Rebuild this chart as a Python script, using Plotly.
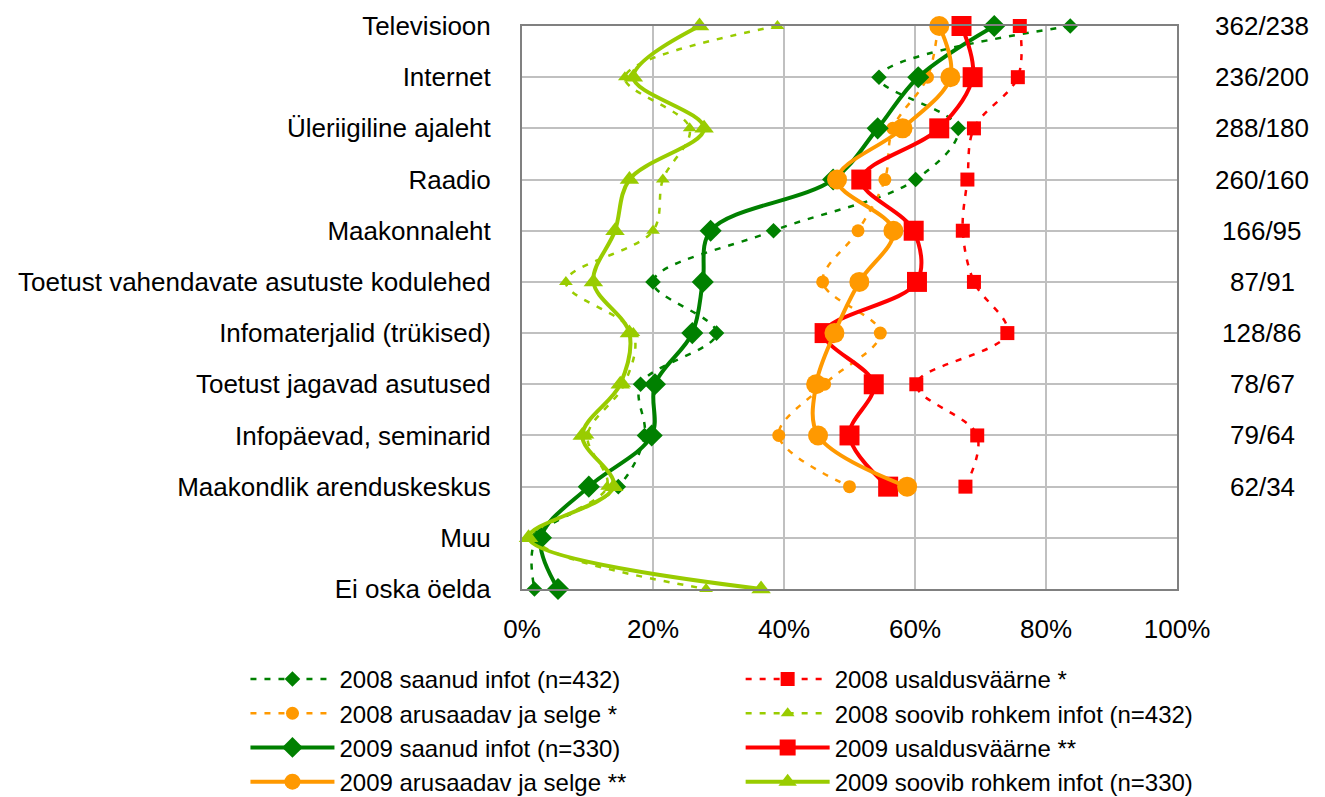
import plotly.graph_objects as go

categories = ["Televisioon", "Internet", "Üleriigiline ajaleht", "Raadio", "Maakonnaleht",
              "Toetust vahendavate asutuste kodulehed", "Infomaterjalid (trükised)",
              "Toetust jagavad asutused", "Infopäevad, seminarid", "Maakondlik arenduskeskus",
              "Muu", "Ei oska öelda"]
counts = ["362/238", "236/200", "288/180", "260/160", "166/95", "87/91", "128/86", "78/67", "79/64", "62/34"]

saanud_2008 = [83.7, 54.5, 66.6, 60.1, 38.4, 20.0, 29.7, 18.1, 18.7, 14.7, 2.2, 1.9]
saanud_2009 = [72.1, 60.5, 54.3, 47.5, 28.8, 27.6, 26.0, 20.3, 19.8, 10.2, 2.9, 5.5]
usaldus_2008 = [76.0, 75.7, 69.0, 68.0, 67.3, 69.0, 74.1, 60.2, 69.5, 67.7]
usaldus_2009 = [67.1, 68.8, 63.7, 51.8, 59.8, 60.3, 46.2, 53.7, 50.0, 55.9]
arus_2008 = [63.5, 61.9, 56.6, 55.4, 51.3, 45.9, 54.7, 46.2, 39.2, 50.0]
arus_2009 = [63.7, 65.4, 58.1, 48.1, 56.7, 51.5, 47.7, 44.9, 45.2, 58.8]
soovib_2008 = [39.0, 15.7, 25.6, 21.5, 20.0, 6.7, 17.0, 15.6, 10.0, 13.0, 2.0, 28.1]
soovib_2009 = [27.1, 17.0, 27.8, 16.4, 14.2, 10.9, 16.4, 15.0, 9.2, 14.0, 1.0, 36.5]

DGREEN = "#008000"
RED = "#FF0000"
ORANGE = "#FF9900"
LGREEN = "#99CC00"
FONT = "Liberation Sans, Arial, sans-serif"
DASH = "6px,8px"

# name, values, colour, symbol, size, dotted, legend column
series = [
    ("2008 saanud infot (n=432)", saanud_2008, DGREEN, "diamond", 12, True, "legend"),
    ("2008 arusaadav ja selge *", arus_2008, ORANGE, "circle", 13, True, "legend"),
    ("2009 saanud infot (n=330)", saanud_2009, DGREEN, "diamond", 17, False, "legend"),
    ("2009 arusaadav ja selge **", arus_2009, ORANGE, "circle", 20, False, "legend"),
    ("2008 usaldusväärne *", usaldus_2008, RED, "square", 14, True, "legend2"),
    ("2008 soovib rohkem infot (n=432)", soovib_2008, LGREEN, "triangle-up", 12, True, "legend2"),
    ("2009 usaldusväärne **", usaldus_2009, RED, "square", 20, False, "legend2"),
    ("2009 soovib rohkem infot (n=330)", soovib_2009, LGREEN, "triangle-up", 17, False, "legend2"),
]
draw_order = [0, 4, 1, 5, 2, 6, 3, 7]

fig = go.Figure()
for idx in draw_order:
    name, vals, color, sym, size, dotted, leg = series[idx]
    yv = list(range(1, len(vals) + 1))
    fig.add_trace(go.Scatter(
        x=[v / 100 for v in vals], y=yv, name=name, mode="lines+markers", legend=leg,
        legendrank=idx,
        line=dict(color=color, width=2.5 if dotted else 4, shape="spline", smoothing=1,
                  dash=DASH if dotted else "solid"),
        marker=dict(symbol=sym, size=size, color=color, line=dict(width=0)),
        cliponaxis=False,
    ))

for i, c in enumerate(counts):
    fig.add_annotation(x=1.1298, xref="paper", y=i + 1, yref="y", text=c, showarrow=False,
                       xanchor="center", yanchor="middle", font=dict(size=26, color="black", family=FONT))

leg_common = dict(orientation="v", xref="container", yref="container", y=0.1775,
                  xanchor="left", yanchor="top", itemwidth=84,
                  font=dict(size=24, family=FONT, color="black"), traceorder="normal",
                  bgcolor="rgba(0,0,0,0)", borderwidth=0)

# the page body adds an 8px margin, so the figure is 8px smaller than the window
fig.update_layout(
    width=1317, height=789,
    margin=dict(l=514, r=148, t=18, b=208, autoexpand=False),
    paper_bgcolor="white", plot_bgcolor="white",
    font=dict(family=FONT, size=26, color="black"),
    showlegend=True,
    legend=dict(x=0.1803, **leg_common),
    legend2=dict(x=0.5563, **leg_common),
    xaxis=dict(range=[0, 1], tickvals=[0, 0.2, 0.4, 0.6, 0.8, 1.0], tickformat=".0%",
               showgrid=True, gridcolor="#C0C0C0", gridwidth=2, zeroline=False,
               showline=True, linecolor="#808080", linewidth=2, mirror=True,
               ticks="", ticklabelstandoff=16, tickfont=dict(size=26)),
    yaxis=dict(range=[12, 1], tickvals=list(range(1, 13)), ticktext=categories,
               showgrid=True, gridcolor="#C0C0C0", gridwidth=2, zeroline=False,
               showline=True, linecolor="#808080", linewidth=2, mirror=True,
               ticks="", ticklabelstandoff=24, tickfont=dict(size=26)),
)

fig.write_html("out.html")
